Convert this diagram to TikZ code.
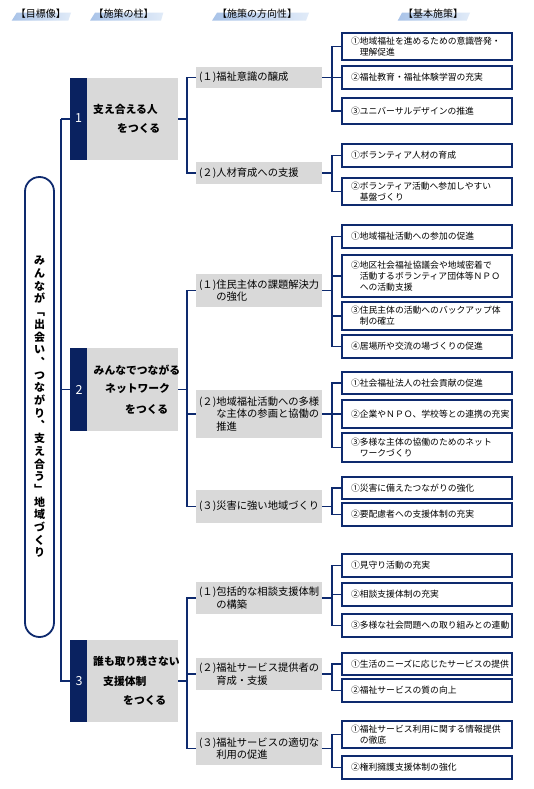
\documentclass[tikz,border=0pt]{standalone}
\usepackage{fontspec}
\newfontfamily\jp{Noto Sans CJK JP}
\definecolor{navy}{HTML}{0E2A6E}
\definecolor{strip}{HTML}{0A2260}
\definecolor{pgray}{HTML}{D9D9D9}
\definecolor{hdrA}{HTML}{A9C3E8}
\definecolor{hdrB}{HTML}{E1EBF8}
\begin{document}
\begin{tikzpicture}[x=1pt,y=-1pt,
  conn/.style={draw=navy,line width=1.8pt},
  bbox/.style={draw=navy,line width=1.8pt,fill=white,text width=152pt,inner xsep=9pt,inner ysep=0pt,align=left,font=\jp\fontsize{8.8}{11}\selectfont,text=black},
  dbox/.style={fill=pgray,text width=120pt,inner xsep=3pt,inner ysep=0pt,align=left,font=\jp\fontsize{10.3}{12.5}\selectfont,text=black},
  pgraybox/.style={fill=pgray,minimum width=91pt,inner sep=0pt},
  pstrip/.style={fill=strip,minimum width=17pt,inner sep=0pt},
  pnum/.style={text=white,font=\jp\fontsize{12.5}{12.5}\selectfont,inner sep=0pt},
  ptext/.style={anchor=west,inner sep=0pt,font=\jp\bfseries\fontsize{10.8}{12}\selectfont,text=black},
  hdr/.style={font=\jp\fontsize{10}{10}\selectfont,text=black,inner sep=0pt},
  hband/.style={left color=hdrA,right color=hdrB,draw=none},
  goalbox/.style={draw=navy,line width=1.8pt,rounded corners=14.5pt,minimum width=29pt,inner sep=0pt,align=center,font=\jp\bfseries\fontsize{11}{12.7}\selectfont,text=black},
]
\useasboundingbox (0,0) rectangle (533,789);
\fill[white] (0,0) rectangle (533,789);

% headers
\shade[hband] (11.7,20.7) -- (16.7,12.7) -- (71,12.7) -- (68.3,20.7) -- cycle;
\node[hdr] (h1) at (41,13.5) {【目標像】};
\shade[hband] (90,20.7) -- (95,12.7) -- (163.3,12.7) -- (161,20.7) -- cycle;
\node[hdr] (h2) at (123.5,13.5) {【施策の柱】};
\shade[hband] (212,20.7) -- (217,12.7) -- (309,12.7) -- (306,20.7) -- cycle;
\node[hdr] (h3) at (257,13.5) {【施策の方向性】};
\shade[hband] (397.7,20.7) -- (402,12.7) -- (470,12.7) -- (466.7,20.7) -- cycle;
\node[hdr] (h4) at (433,13.5) {【基本施策】};

% goal
\node[goalbox,minimum height=460pt] (goal) at (39.5,407) {み\\ん\\な\\が\\﹁\\出\\会\\い\\︑\\つ\\な\\が\\り\\︑\\支\\え\\合\\う\\﹂\\地\\域\\づ\\く\\り};

% pillars
\node[pstrip,minimum height=82pt] (s1) at (78.5,119) {};
\node[pgraybox,minimum height=82pt] (p1) at (132.5,119) {};
\node[pnum] (n1) at (78.5,118) {1};
\node[ptext] (p1a) at (93,109) {支え合える人};
\node[ptext] (p1b) at (117,128) {をつくる};

\node[pstrip,minimum height=83pt] (s2) at (78.5,389.5) {};
\node[pgraybox,minimum height=83pt] (p2) at (132.5,389.5) {};
\node[pnum] (n2) at (79,390) {2};
\node[ptext] (p2a) at (93.5,370) {みんなでつながる};
\node[ptext] (p2b) at (105,389) {ネットワーク};
\node[ptext] (p2c) at (125,409) {をつくる};

\node[pstrip,minimum height=82pt] (s3) at (78.5,681) {};
\node[pgraybox,minimum height=82pt] (p3) at (132.5,681) {};
\node[pnum] (n3) at (79,681) {3};
\node[ptext] (p3a) at (93,661) {誰も取り残さない};
\node[ptext] (p3b) at (103,681) {支援体制};
\node[ptext] (p3c) at (123,700) {をつくる};

% directions
\node[dbox,minimum height=21pt] (d11) at (259,77.5) {(１)福祉意識の醸成};
\node[dbox,minimum height=22pt] (d12) at (259,173) {(２)人材育成への支援};
\node[dbox,minimum height=33pt] (d21) at (259,290.5) {(１)住民主体の課題解決力\\\hphantom{(１)}の強化};
\node[dbox,minimum height=48pt] (d22) at (259,414) {(２)地域福祉活動への多様\\\hphantom{(２)}な主体の参画と協働の\\\hphantom{(２)}推進};
\node[dbox,minimum height=33pt] (d23) at (259,506.5) {(３)災害に強い地域づくり};
\node[dbox,minimum height=32pt] (d31) at (259,598) {(１)包括的な相談支援体制\\\hphantom{(１)}の構築};
\node[dbox,minimum height=32pt] (d32) at (259,674) {(２)福祉サービス提供者の\\\hphantom{(２)}育成・支援};
\node[dbox,minimum height=33pt] (d33) at (259,748.5) {(３)福祉サービスの適切な\\\hphantom{(３)}利用の促進};

% basic measures
\node[bbox,minimum height=27pt] (b111) at (427,46.5) {①地域福祉を進めるための意識啓発・\\\hspace*{1em}理解促進};
\node[bbox,minimum height=23pt] (b112) at (427,77.5) {②福祉教育・福祉体験学習の充実};
\node[bbox,minimum height=26pt] (b113) at (427,111) {③ユニバーサルデザインの推進};
\node[bbox,minimum height=23pt] (b121) at (427,155.5) {①ボランティア人材の育成};
\node[bbox,minimum height=27pt] (b122) at (427,191.5) {②ボランティア活動へ参加しやすい\\\hspace*{1em}基盤づくり};
\node[bbox,minimum height=23pt] (b211) at (427,236.5) {①地域福祉活動への参加の促進};
\node[bbox,minimum height=42pt] (b212) at (427,276) {②地区社会福祉協議会や地域密着で\\\hspace*{1em}活動するボランティア団体等ＮＰＯ\\\hspace*{1em}への活動支援};
\node[bbox,minimum height=28pt] (b213) at (427,316) {③住民主体の活動へのバックアップ体\\\hspace*{1em}制の確立};
\node[bbox,minimum height=23pt] (b214) at (427,346.5) {④居場所や交流の場づくりの促進};
\node[bbox,minimum height=22pt] (b221) at (427,383) {①社会福祉法人の社会貢献の促進};
\node[bbox,minimum height=28pt] (b222) at (427,414) {②企業やＮＰＯ、学校等との連携の充実};
\node[bbox,minimum height=29pt] (b223) at (427,447.5) {③多様な主体の協働のためのネット\\\hspace*{1em}ワークづくり};
\node[bbox,minimum height=22pt] (b231) at (427,488) {①災害に備えたつながりの強化};
\node[bbox,minimum height=23pt] (b232) at (427,514.5) {②要配慮者への支援体制の充実};
\node[bbox,minimum height=23pt] (b311) at (427,565.5) {①見守り活動の充実};
\node[bbox,minimum height=23pt] (b312) at (427,594.5) {②相談支援体制の充実};
\node[bbox,minimum height=23pt] (b313) at (427,625.5) {③多様な社会問題への取り組みとの連動};
\node[bbox,minimum height=22pt] (b321) at (427,664) {①生活のニーズに応じたサービスの提供};
\node[bbox,minimum height=23pt] (b322) at (427,690.5) {②福祉サービスの質の向上};
\node[bbox,minimum height=27pt] (b331) at (427,734.5) {①福祉サービス利用に関する情報提供\\\hspace*{1em}の徹底};
\node[bbox,minimum height=23pt] (b332) at (427,767.5) {②権利擁護支援体制の強化};

% connector columns
\coordinate (colP) at (61,0);
\coordinate (colD) at (187,0);
\coordinate (colB) at (332,0);

% goal pillars
\draw[conn] (s1.west) -- (s1.west -| colP) coordinate (jP);
\draw[conn] (s2.west) -| (jP);
\draw[conn] (s3.west) -| (jP);

% pillars to directions
\draw[conn] (p1.east) -- (p1.east -| colD) coordinate (jD1);
\draw[conn] (d11.west) -| (jD1);
\draw[conn] (d12.west) -| (jD1);
\draw[conn] (p2.east) -- (p2.east -| colD) coordinate (jD2);
\draw[conn] (d21.west) -| (jD2);
\draw[conn] (d22.west) -| (jD2);
\draw[conn] (d23.west) -| (jD2);
\draw[conn] (p3.east) -- (p3.east -| colD) coordinate (jD3);
\draw[conn] (d31.west) -| (jD3);
\draw[conn] (d32.west) -| (jD3);
\draw[conn] (d33.west) -| (jD3);

% directions to measures
\draw[conn] (d11.east) -- (d11.east -| colB) coordinate (jB11);
\draw[conn] (b111.west) -| (jB11);
\draw[conn] (b112.west) -| (jB11);
\draw[conn] (b113.west) -| (jB11);
\draw[conn] (d12.east) -- (d12.east -| colB) coordinate (jB12);
\draw[conn] (b121.west) -| (jB12);
\draw[conn] (b122.west) -| (jB12);
\draw[conn] (d21.east) -- (d21.east -| colB) coordinate (jB21);
\draw[conn] (b211.west) -| (jB21);
\draw[conn] (b212.west) -| (jB21);
\draw[conn] (b213.west) -| (jB21);
\draw[conn] (b214.west) -| (jB21);
\draw[conn] (d22.east) -- (d22.east -| colB) coordinate (jB22);
\draw[conn] (b221.west) -| (jB22);
\draw[conn] (b222.west) -| (jB22);
\draw[conn] (b223.west) -| (jB22);
\draw[conn] (d23.east) -- (d23.east -| colB) coordinate (jB23);
\draw[conn] (b231.west) -| (jB23);
\draw[conn] (b232.west) -| (jB23);
\draw[conn] (d31.east) -- (d31.east -| colB) coordinate (jB31);
\draw[conn] (b311.west) -| (jB31);
\draw[conn] (b312.west) -| (jB31);
\draw[conn] (b313.west) -| (jB31);
\draw[conn] (d32.east) -- (d32.east -| colB) coordinate (jB32);
\draw[conn] (b321.west) -| (jB32);
\draw[conn] (b322.west) -| (jB32);
\draw[conn] (d33.east) -- (d33.east -| colB) coordinate (jB33);
\draw[conn] (b331.west) -| (jB33);
\draw[conn] (b332.west) -| (jB33);
\end{tikzpicture}
\end{document}
